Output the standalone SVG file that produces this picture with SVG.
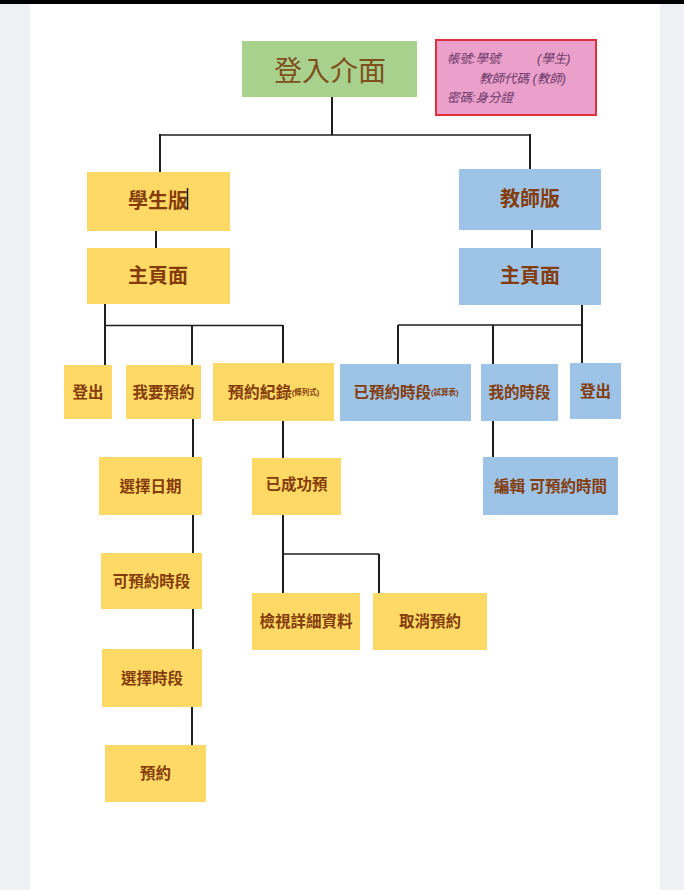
<svg xmlns="http://www.w3.org/2000/svg" width="684" height="890" viewBox="0 0 684 890">
<style>
.t{font-family:"Liberation Sans","Noto Sans CJK TC",sans-serif;font-weight:bold;fill:#843c0c;text-anchor:middle;dominant-baseline:central}
.s{font-size:15.5px}
.b{font-size:20px}
.xs{font-size:7.5px}
.y{fill:#ffd966}
.bl{fill:#9dc3e6}
.c line{stroke:#1e1e1e;stroke-width:2}
.c line.h{stroke-width:1.6}
.n{font-family:"Liberation Sans","Noto Sans CJK TC",sans-serif;font-style:italic;font-size:12.5px;fill:#6e3a6a}
</style>
<rect x="0" y="0" width="684" height="890" fill="#eff1f4"/>
<rect x="30" y="4" width="630" height="886" fill="#ffffff"/>
<rect x="0" y="0" width="684" height="4" fill="#000000"/>

<g id="connectors" class="c">
<line x1="332" y1="97" x2="332" y2="135"/>
<line class="h" x1="159" y1="135" x2="531" y2="135"/>
<line x1="160" y1="134" x2="160" y2="172"/>
<line x1="530" y1="134" x2="530" y2="169"/>
<line x1="156" y1="231" x2="156" y2="248"/>
<line x1="532" y1="230" x2="532" y2="248"/>
<line x1="105" y1="304" x2="105" y2="365"/>
<line class="h" x1="105" y1="325.5" x2="283" y2="325.5"/>
<line x1="192" y1="325" x2="192" y2="365"/>
<line x1="283" y1="325" x2="283" y2="363"/>
<line x1="582" y1="305" x2="582" y2="363"/>
<line class="h" x1="398" y1="325" x2="582" y2="325"/>
<line x1="398" y1="325" x2="398" y2="364"/>
<line x1="493" y1="325" x2="493" y2="364"/>
<line x1="193" y1="419" x2="193" y2="457"/>
<line x1="193" y1="515" x2="193" y2="553"/>
<line x1="193" y1="609" x2="193" y2="649"/>
<line x1="192" y1="707" x2="192" y2="745"/>
<line x1="283" y1="421" x2="283" y2="458"/>
<line x1="283" y1="515" x2="283" y2="593"/>
<line class="h" x1="283" y1="554" x2="379" y2="554"/>
<line x1="379" y1="554" x2="379" y2="593"/>
<line x1="493" y1="421" x2="493" y2="457"/>
</g>

<g id="login">
<rect x="242" y="41" width="175" height="56" fill="#a9d18e"/>
<text x="330" y="69" font-family="'Noto Sans CJK TC',sans-serif" font-size="28" fill="#7f4f1c" text-anchor="middle" dominant-baseline="central">登入介面</text>
</g>

<g id="note">
<rect x="436" y="40" width="160" height="75" fill="#eaa0cb" stroke="#e0303c" stroke-width="2"/>
<text class="n" x="447" y="63">帳號:學號</text>
<text class="n" x="537" y="63">(學生)</text>
<text class="n" x="479" y="83">教師代碼 (教師)</text>
<text class="n" x="447" y="102">密碼:身分證</text>
</g>

<g id="student">
<rect class="y" x="87" y="172" width="143" height="59"/>
<text class="t b" x="158" y="201">學生版</text>
<line x1="187.5" y1="188" x2="187.5" y2="210" stroke="#1e1e1e" stroke-width="1.5"/>
</g>

<g id="teacher">
<rect class="bl" x="459" y="169" width="142" height="61"/>
<text class="t b" x="530" y="199">教師版</text>
</g>

<g id="s-main">
<rect class="y" x="87" y="248" width="143" height="56"/>
<text class="t b" x="158" y="276">主頁面</text>
</g>

<g id="t-main">
<rect class="bl" x="459" y="248" width="142" height="57"/>
<text class="t b" x="530" y="276">主頁面</text>
</g>

<g id="s-logout">
<rect class="y" x="64" y="365" width="48" height="54"/>
<text class="t s" x="88" y="392">登出</text>
</g>

<g id="s-book">
<rect class="y" x="126" y="365" width="75" height="54"/>
<text class="t s" x="163.5" y="392">我要預約</text>
</g>

<g id="s-records">
<rect class="y" x="213" y="363" width="121" height="58"/>
<text class="t" x="273.5" y="392"><tspan font-size="16px">預約紀錄</tspan><tspan class="xs">(條列式)</tspan></text>
</g>

<g id="t-booked">
<rect class="bl" x="340" y="364" width="131" height="57"/>
<text class="t" x="406" y="392"><tspan font-size="15.5px">已預約時段</tspan><tspan class="xs">(試算表)</tspan></text>
</g>

<g id="t-mine">
<rect class="bl" x="481" y="364" width="77" height="57"/>
<text class="t s" x="519.5" y="392">我的時段</text>
</g>

<g id="t-logout">
<rect class="bl" x="570" y="363" width="51" height="56"/>
<text class="t s" x="595.5" y="391">登出</text>
</g>

<g id="s-date">
<rect class="y" x="99" y="457" width="103" height="58"/>
<text class="t s" x="150.5" y="486">選擇日期</text>
</g>

<g id="s-done">
<rect class="y" x="252" y="458" width="89" height="57"/>
<text class="t s" x="296.5" y="484">已成功預</text>
</g>

<g id="t-edit">
<rect class="bl" x="483" y="457" width="135" height="58"/>
<text class="t s" x="550.5" y="486">編輯 可預約時間</text>
</g>

<g id="s-avail">
<rect class="y" x="101" y="553" width="101" height="56"/>
<text class="t s" x="151.5" y="581">可預約時段</text>
</g>

<g id="s-detail">
<rect class="y" x="252" y="593" width="108" height="57"/>
<text class="t s" x="306" y="621.5">檢視詳細資料</text>
</g>

<g id="s-cancel">
<rect class="y" x="373" y="593" width="114" height="57"/>
<text class="t s" x="430" y="621.5">取消預約</text>
</g>

<g id="s-slot">
<rect class="y" x="102" y="649" width="100" height="58"/>
<text class="t s" x="152" y="678">選擇時段</text>
</g>

<g id="s-reserve">
<rect class="y" x="105" y="745" width="101" height="57"/>
<text class="t s" x="155.5" y="773.5">預約</text>
</g>
</svg>
